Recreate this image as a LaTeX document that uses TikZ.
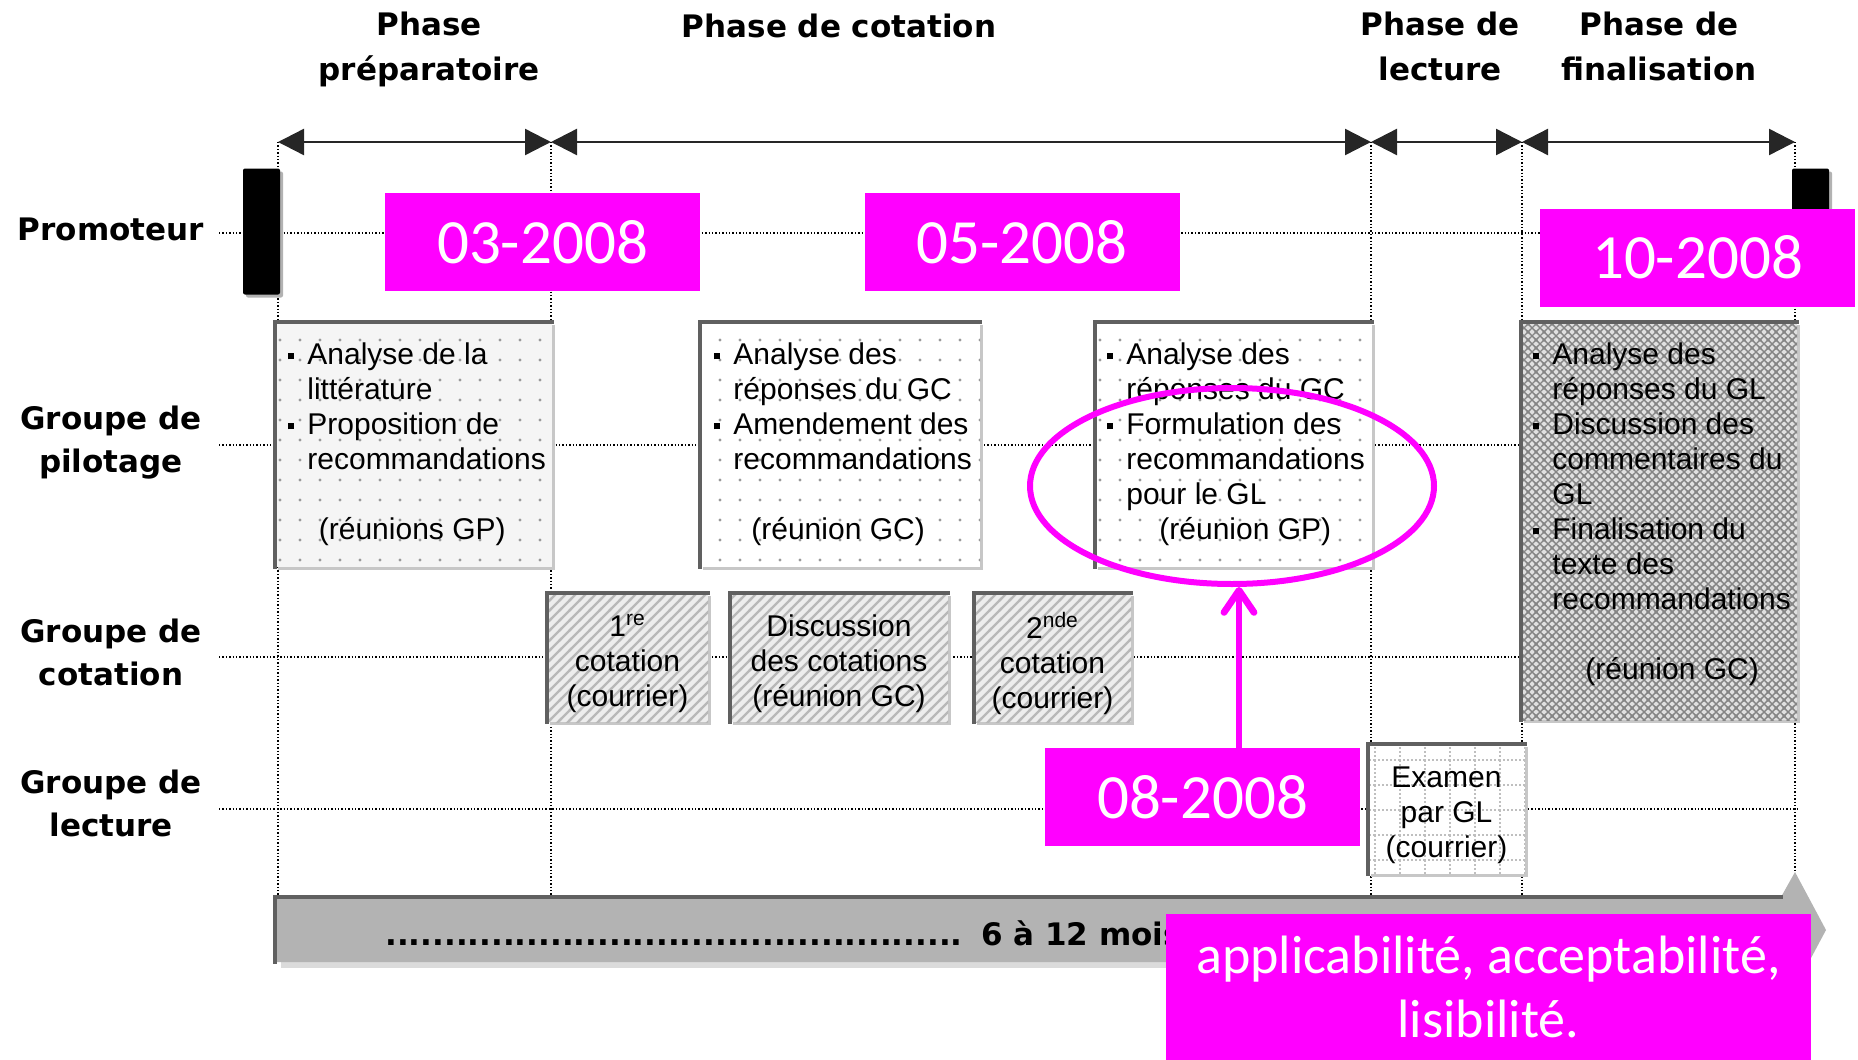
\documentclass[tikz,border=0pt]{standalone}
\usepackage{fontspec}
\setmainfont{Liberation Sans}
\newfontfamily\headfont{DejaVu Sans}
\newfontfamily\datefont{Carlito}
\usetikzlibrary{positioning}
\usetikzlibrary{calc}
\usetikzlibrary{arrows.meta, shapes, shadows, patterns}

\definecolor{hilite}{HTML}{FF00FF}
\definecolor{rimgray}{HTML}{606060}
\definecolor{bargray}{HTML}{B3B3B3}

% sparse dots, stripes, cross hatch and grid
\pgfdeclarepatternformonly{pdots}{\pgfpoint{-1pt}{-1pt}}{\pgfpoint{1pt}{1pt}}{\pgfpoint{10pt}{10pt}}%
  {\pgfpathcircle{\pgfpointorigin}{0.8pt}\pgfusepath{fill}}
\pgfdeclarepatternformonly{phatch}{\pgfpoint{-1pt}{-1pt}}{\pgfpoint{6pt}{6pt}}{\pgfpoint{5pt}{5pt}}%
  {\pgfsetlinewidth{1.2pt}\pgfpathmoveto{\pgfpoint{-1pt}{-1pt}}\pgfpathlineto{\pgfpoint{6pt}{6pt}}\pgfusepath{stroke}}
\pgfdeclarepatternformonly{pxhatch}{\pgfpoint{-1pt}{-1pt}}{\pgfpoint{5pt}{5pt}}{\pgfpoint{4pt}{4pt}}%
  {\pgfsetlinewidth{0.7pt}\pgfpathmoveto{\pgfpoint{-1pt}{-1pt}}\pgfpathlineto{\pgfpoint{5pt}{5pt}}%
   \pgfpathmoveto{\pgfpoint{-1pt}{5pt}}\pgfpathlineto{\pgfpoint{5pt}{-1pt}}\pgfusepath{stroke}}
\pgfdeclarepatternformonly{pgrid}{\pgfpoint{-0.5pt}{-0.5pt}}{\pgfpoint{12.5pt}{12.5pt}}{\pgfpoint{12.5pt}{12.5pt}}%
  {\pgfsetlinewidth{0.6pt}\pgfsetdash{{1pt}{1pt}}{0pt}\pgfpathmoveto{\pgfpoint{0pt}{-0.5pt}}\pgfpathlineto{\pgfpoint{0pt}{12.5pt}}%
   \pgfpathmoveto{\pgfpoint{-0.5pt}{0pt}}\pgfpathlineto{\pgfpoint{12.5pt}{0pt}}\pgfusepath{stroke}}

\newcommand{\bodyfont}{\fontsize{15}{17.5}\selectfont}
\newcommand{\itm}{\makebox[9.5pt][l]{\raisebox{2.4pt}{\rule{3pt}{3pt}}}}
\newcommand{\cnt}{\hspace*{9.5pt}}

\tikzset{
	every node/.style={align=center},
	gridline/.style={densely dotted, line width=0.7pt},
	phasearrow/.style={{Triangle[length=13pt,width=13pt]}-{Triangle[length=13pt,width=13pt]}, line width=1.2pt, draw=black!85},
	phase/.style={font=\headfont\bfseries\fontsize{15.5}{22.5}\selectfont},
	actor/.style={font=\headfont\bfseries\fontsize{15.5}{21.5}\selectfont},
	rimline/.style={-, draw=rimgray, line width=2pt, line cap=rect},
	stage/.style={rectangle, inner sep=0pt, outer sep=0pt, font=\bodyfont,
		drop shadow={shadow xshift=1.5pt, shadow yshift=-1.5pt, fill=black!22, opacity=1},
		append after command={(\tikzlastnode.south west) edge[rimline] (\tikzlastnode.north west)
			(\tikzlastnode.north west) edge[rimline] (\tikzlastnode.north east)}},
	pilotbox/.style={stage, preaction={fill=white}, pattern=pdots, pattern color=black!40},
	finalbox/.style={stage, preaction={fill=black!12}, pattern=pxhatch, pattern color=black!48},
	cotebox/.style={stage, preaction={fill=black!7}, pattern=phatch, pattern color=black!28, minimum height=64.5pt},
	readbox/.style={stage, preaction={fill=white}, pattern=pgrid, pattern color=black!25},
	boxtext/.style={font=\bodyfont, inner sep=0pt, yshift=-3pt},
	listtext/.style={align=left, inner sep=0pt, font=\bodyfont},
	promobar/.style={fill=black, inner sep=0pt, minimum width=18.5pt, minimum height=63pt, rounded corners=1pt,
		drop shadow={shadow xshift=1.5pt, shadow yshift=-1.5pt, fill=black!30, opacity=1}},
	span/.style={font=\headfont\bfseries\fontsize{15.5}{18}\selectfont, inner sep=0pt},
	datebox/.style={fill=hilite, text=white, inner sep=0pt, minimum width=157.5pt, minimum height=49pt,
		font=\datefont\fontsize{31.5}{36}\selectfont},
	notebox/.style={fill=hilite, text=white, inner sep=0pt, minimum width=322.5pt, minimum height=73pt,
		font=\datefont\fontsize{27}{32}\selectfont},
	focus/.style={ellipse, draw=hilite, line width=3pt, inner sep=0pt, minimum width=202pt, minimum height=98pt},
	hiarrow/.style={-{Straight Barb[length=11pt,width=15pt,round]}, draw=hilite, line width=3.4pt}
}

\begin{document}
\begin{tikzpicture}[x=0.5pt, y=-0.5pt]
	\useasboundingbox (0,0) rectangle (1858,1060);

	% dotted grid
	\foreach \y in {233,445,657,809}
		\draw[gridline] (219,\y) -- (1797,\y);
	\foreach \x in {278,551,1371,1522}
		\draw[gridline] (\x,142) -- (\x,896);
	\draw[gridline] (1795,142) -- (1795,872);

	% phases
	\coordinate (t0) at (278,142);
	\coordinate (t1) at (551,142);
	\coordinate (t2) at (1371,142);
	\coordinate (t3) at (1522,142);
	\coordinate (t4) at (1795,142);
	\draw[phasearrow] (t0) -- (t1);
	\draw[phasearrow] (t1) -- (t2);
	\draw[phasearrow] (t2) -- (t3);
	\draw[phasearrow] (t3) -- (t4);
	\node[phase] (phprep) at (429,49) {Phase\\préparatoire};
	\node[phase] (phcot) at (839,26) {Phase de cotation};
	\node[phase] (phlec) at (1440,46.5) {Phase de\\lecture};
	\node[phase] (phfin) at (1659,46.5) {Phase de\\finalisation};

	% actors
	\node[actor] (promo) at (111,229) {Promoteur};
	\node[actor] (gpil) at (111,443) {Groupe de\\pilotage};
	\node[actor] (gcot) at (111,652.5) {Groupe de\\cotation};
	\node[actor] (glec) at (111,803.5) {Groupe de\\lecture};

	\node[promobar] (start) at (261.5,231.5) {};
	\node[promobar] (stop) at (1810.5,231.5) {};

	% groupe de pilotage
	\node[pilotbox, preaction={fill=black!4}, minimum width=138.5pt, minimum height=122.5pt] (gp1) at (413.5,444.5) {};
	\node[listtext, below right=10pt and 6.5pt of gp1.north west] (gp1txt)
		{\itm Analyse de la\\ \cnt littérature\\ \itm Proposition de\\ \cnt recommandations\\[17.5pt] \hspace*{15.25pt}(réunions GP)};
	\node[pilotbox, minimum width=140pt, minimum height=122.5pt] (gp2) at (840,444.5) {};
	\node[listtext, below right=10pt and 7pt of gp2.north west] (gp2txt)
		{\itm Analyse des\\ \cnt réponses du GC\\ \itm Amendement des\\ \cnt recommandations\\[17.5pt] \hspace*{18.5pt}(réunion GC)};
	\node[pilotbox, minimum width=138.5pt, minimum height=122.5pt] (gp3) at (1233.5,444.5) {};
	\node[listtext, below right=10pt and 6pt of gp3.north west] (gp3txt)
		{\itm Analyse des\\ \cnt réponses du GC\\ \itm Formulation des\\ \cnt recommandations\\ \cnt pour le GL\\ \hspace*{26pt}(réunion GP)};
	\node[finalbox, minimum width=138pt, minimum height=199pt] (gp4) at (1659,521) {};
	\node[listtext, below right=10pt and 6pt of gp4.north west] (gp4txt)
		{\itm Analyse des\\ \cnt réponses du GL\\ \itm Discussion des\\ \cnt commentaires du\\ \cnt GL\\
		 \itm Finalisation du\\ \cnt texte des\\ \cnt recommandations\\[17.5pt] \hspace*{26pt}(réunion GC)};

	% groupe de cotation
	\node[cotebox, minimum width=80.5pt] (gc1) at (627.5,657.5) {};
	\node[boxtext] (gc1txt) at (gc1) {1\textsuperscript{re}\\cotation\\(courrier)};
	\node[cotebox, minimum width=109pt] (gc2) at (839,657.5) {};
	\node[boxtext] (gc2txt) at (gc2) {Discussion\\des cotations\\(réunion GC)};
	\node[cotebox, minimum width=78.5pt] (gc3) at (1052.5,657.5) {};
	\node[boxtext] (gc3txt) at (gc3) {2\textsuperscript{nde}\\cotation\\(courrier)};

	% groupe de lecture
	\node[readbox, minimum width=78.5pt, minimum height=65pt] (gl1) at (1446.5,809) {};
	\node[boxtext] (gl1txt) at (gl1) {Examen\\par GL\\(courrier)};

	% duration
	\fill[black!14] (281,903) -- (1781,903) -- (1781,968) -- (281,968) -- cycle;
	\fill[bargray] (275,897) -- (1781,897) -- (1795,872) -- (1826,930) -- (1795,988) -- (1781,962) -- (275,962) -- cycle;
	\draw[rimline] (275,962) -- (275,897) -- (1781,897);
	\node[span, anchor=base west] (span) at (385,945)
		{.................................................\hspace{0.6em}6 à 12 mois};

	% highlights
	\node[datebox] (d03) at (542.5,242) {03-2008};
	\node[datebox] (d05) at (1022,242) {05-2008};
	\node[datebox] (d10) at (1697.5,257.5) {10-2008};
	\node[datebox] (d08) at (1202.5,797) {08-2008};
	\node[focus] (ring) at (1232,486) {};
	\draw[hiarrow] ([xshift=3.5pt]ring.south |- d08.north) -- ([xshift=3.5pt]ring.south);
	\node[notebox] (note) at (1488.5,987) {applicabilité, acceptabilité,\\lisibilité.};
\end{tikzpicture}
\end{document}
